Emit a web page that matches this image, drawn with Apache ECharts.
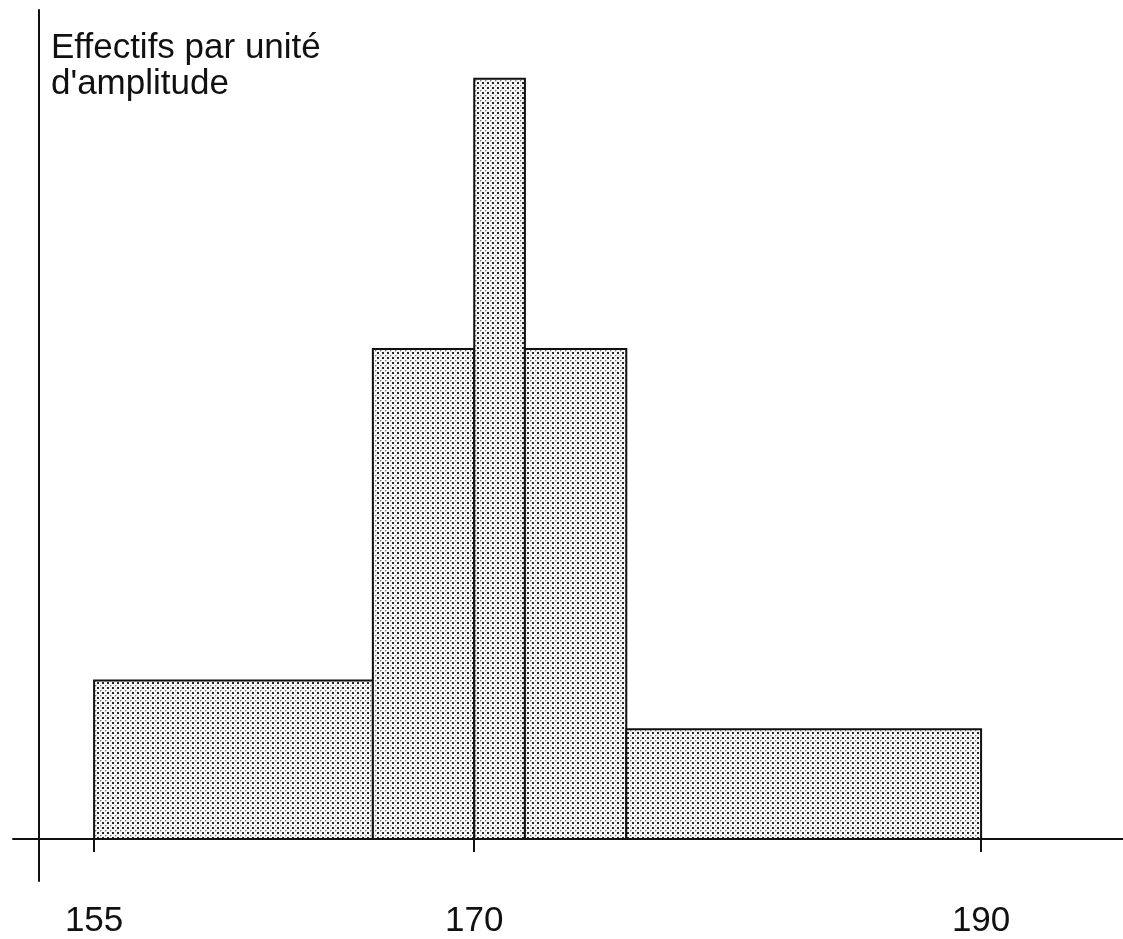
<!DOCTYPE html>
<html>
<head>
<meta charset="utf-8">
<script src="https://cdn.jsdelivr.net/npm/echarts@6/dist/echarts.min.js"></script>
<style>
html,body{margin:0;padding:0;background:#fff;}
#chart{width:1123px;height:939px;}
</style>
</head>
<body>
<div id="chart"></div>
<script>
// Class boundaries (cm) and frequency per unit of amplitude
var classStarts = [155, 166, 170, 172, 176];
var classEnds   = [166, 170, 172, 176, 190];
var densities   = [1.66, 5.13, 7.96, 5.13, 1.15];
var tickValues  = [155, 170, 190];
var yTitle = "Effectifs par unité\nd'amplitude";

function makePattern() {
  var c = document.createElement('canvas');
  c.width = 5; c.height = 5;
  var ctx = c.getContext('2d');
  ctx.fillStyle = '#f6f6f6';
  ctx.fillRect(0, 0, 5, 5);
  ctx.fillStyle = '#262626';
  ctx.fillRect(2, 2, 2, 2);
  ctx.fillStyle = '#7a7a7a';
  ctx.fillRect(0, 0, 1, 1);
  ctx.fillStyle = '#c4c4c4';
  ctx.fillRect(0, 1, 1, 1);
  ctx.fillRect(1, 0, 1, 1);
  return c;
}
var pattern = makePattern();

var data = classStarts.map(function (s, i) { return [s, classEnds[i], densities[i]]; });

var chart = echarts.init(document.getElementById('chart'), null, {renderer: 'canvas'});
chart.setOption({
  animation: false,
  backgroundColor: '#fff',
  title: {
    text: yTitle,
    left: 46, top: 25,
    textStyle: {fontFamily: 'Liberation Sans', fontSize: 35, fontWeight: 'normal', color: '#111', lineHeight: 36}
  },
  grid: {left: 13, right: 0, top: 10, bottom: 17, containLabel: false},
  xAxis: {
    type: 'value', min: 151.8, max: 195.6,
    axisLine: {show: true, onZero: true, lineStyle: {color: '#111', width: 2}},
    axisTick: {show: true, inside: false, length: 13, customValues: tickValues, lineStyle: {color: '#111', width: 2}},
    axisLabel: {show: true, customValues: tickValues, margin: 23, fontFamily: 'Liberation Sans', fontSize: 35, color: '#111'},
    splitLine: {show: false}
  },
  yAxis: {
    type: 'value', min: -0.44, max: 8.68, offset: -26,
    axisLine: {show: true, onZero: false, lineStyle: {color: '#111', width: 2}},
    axisTick: {show: false},
    axisLabel: {show: false},
    splitLine: {show: false}
  },
  series: [{
    type: 'custom',
    data: data,
    renderItem: function (params, api) {
      var p0 = api.coord([api.value(0), 0]);
      var p1 = api.coord([api.value(1), api.value(2)]);
      return {
        type: 'rect',
        shape: {x: p0[0], y: p1[1], width: p1[0] - p0[0], height: p0[1] - p1[1]},
        style: {fill: {image: pattern, repeat: 'repeat'}, stroke: '#111', lineWidth: 2}
      };
    }
  }]
});
</script>
</body>
</html>
